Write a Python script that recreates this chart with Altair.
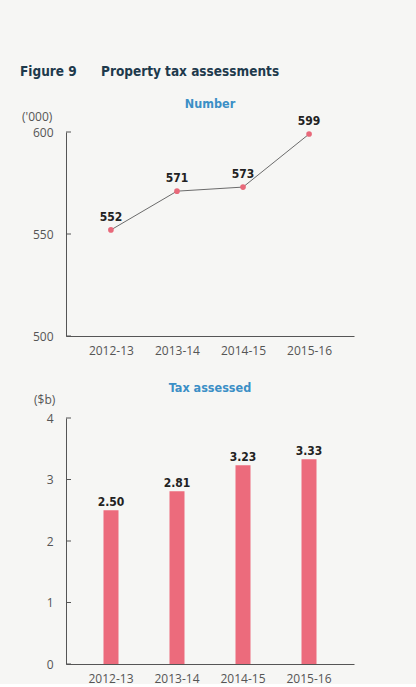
import altair as alt
import pandas as pd

years = ["2012-13", "2013-14", "2014-15", "2015-16"]
numbers = [552, 571, 573, 599]
tax = [2.50, 2.81, 3.23, 3.33]
number_ticks = [500, 550, 600]
tax_ticks = [0, 1, 2, 3, 4]

NARROW = "'Liberation Sans Narrow', 'DejaVu Sans Condensed', 'Open Sans', sans-serif"
FONT = "'Open Sans', sans-serif"
TITLE_COLOR = "#1e3a4c"
SUB_COLOR = "#3b8fc6"
AXIS_COLOR = "#555555"
PINK = "#e8697a"
BAR = "#ec6b7c"

W = 288
H1 = 204
H2 = 246

df1 = pd.DataFrame({"year": years, "value": numbers})
df2 = pd.DataFrame({"year": years, "value": tax, "label": [f"{v:.2f}" for v in tax]})


def xaxis():
    return alt.Axis(title=None, ticks=False, labelAngle=0, labelPadding=9,
                    labelFont=FONT, labelFontSize=12, labelColor="#555555",
                    domainColor=AXIS_COLOR)


def yaxis(vals):
    return alt.Axis(values=vals, title=None, ticks=False, grid=False,
                    labelPadding=13, labelFont=FONT, labelFontSize=12,
                    labelColor="#555555", domainColor=AXIS_COLOR)


def text_layer(txt, x, y, **kw):
    return alt.Chart(pd.DataFrame({"t": [txt]})).mark_text(**kw).encode(
        text="t:N", x=alt.value(x), y=alt.value(y))


# ---- top panel ----
x1 = alt.X("year:N", sort=years, scale=alt.Scale(type="point", padding=0.68), axis=xaxis())
y1 = alt.Y("value:Q", scale=alt.Scale(domain=[500, 600]), axis=yaxis(number_ticks))
base1 = alt.Chart(df1)
line = base1.mark_line(color="#6b6b6b", strokeWidth=1).encode(x=x1, y=y1)
pts = base1.mark_circle(size=32, color=PINK, opacity=1).encode(x=x1, y=y1)
lbl1 = base1.mark_text(dy=-13, fontWeight="bold", font=NARROW, fontSize=12,
                       color="#222222").encode(x=x1, y=y1, text="value:Q")
ticks1 = alt.Chart(pd.DataFrame({"value": number_ticks})).mark_rule(color=AXIS_COLOR).encode(
    y=y1, x=alt.value(0), x2=alt.value(5))

fig = text_layer("Figure 9", -46, -60, align="left", baseline="middle", font=NARROW,
                 fontSize=13.5, fontWeight="bold", color=TITLE_COLOR)
fig2 = text_layer("Property tax assessments", 35, -60, align="left", baseline="middle",
                  font=NARROW, fontSize=13.5, fontWeight="bold", color=TITLE_COLOR)
sub1 = text_layer("Number", W / 2, -28, align="center", baseline="middle", font=NARROW,
                  fontSize=12.5, fontWeight="bold", color=SUB_COLOR)
unit1 = text_layer("('000)", -44, -15, align="left", baseline="middle", font=FONT,
                   fontSize=12, color="#555555")

top = alt.layer(line, pts, lbl1, ticks1, fig, fig2, sub1, unit1).properties(width=W, height=H1)

# ---- bottom panel ----
x2 = alt.X("year:N", sort=years,
           scale=alt.Scale(type="band", paddingInner=0.7727, paddingOuter=0.568), axis=xaxis())
y2 = alt.Y("value:Q", scale=alt.Scale(domain=[0, 4]), axis=yaxis(tax_ticks))
base2 = alt.Chart(df2)
bars = base2.mark_bar(color=BAR).encode(x=x2, y=y2)
lbl2 = base2.mark_text(dy=-1, baseline="bottom", fontWeight="bold", font=NARROW, fontSize=12,
                       color="#222222").encode(x=x2, y=y2, text="label:N")
ticks2 = alt.Chart(pd.DataFrame({"value": tax_ticks})).mark_rule(color=AXIS_COLOR).encode(
    y=y2, x=alt.value(0), x2=alt.value(5))
sub2 = text_layer("Tax assessed", W / 2, -30, align="center", baseline="middle", font=NARROW,
                  fontSize=12.5, fontWeight="bold", color=SUB_COLOR)
unit2 = text_layer("($b)", -32, -18, align="left", baseline="middle", font=FONT,
                   fontSize=12, color="#555555")

bottom = alt.layer(bars, lbl2, ticks2, sub2, unit2).properties(width=W, height=H2)

chart = alt.vconcat(top, bottom, spacing=26).properties(
    background="#f6f6f4",
    padding={"left": 20, "top": 65, "right": 62, "bottom": 0},
).configure_view(stroke=None)

chart.save("out.html", embed_options={"renderer": "svg", "actions": False})
